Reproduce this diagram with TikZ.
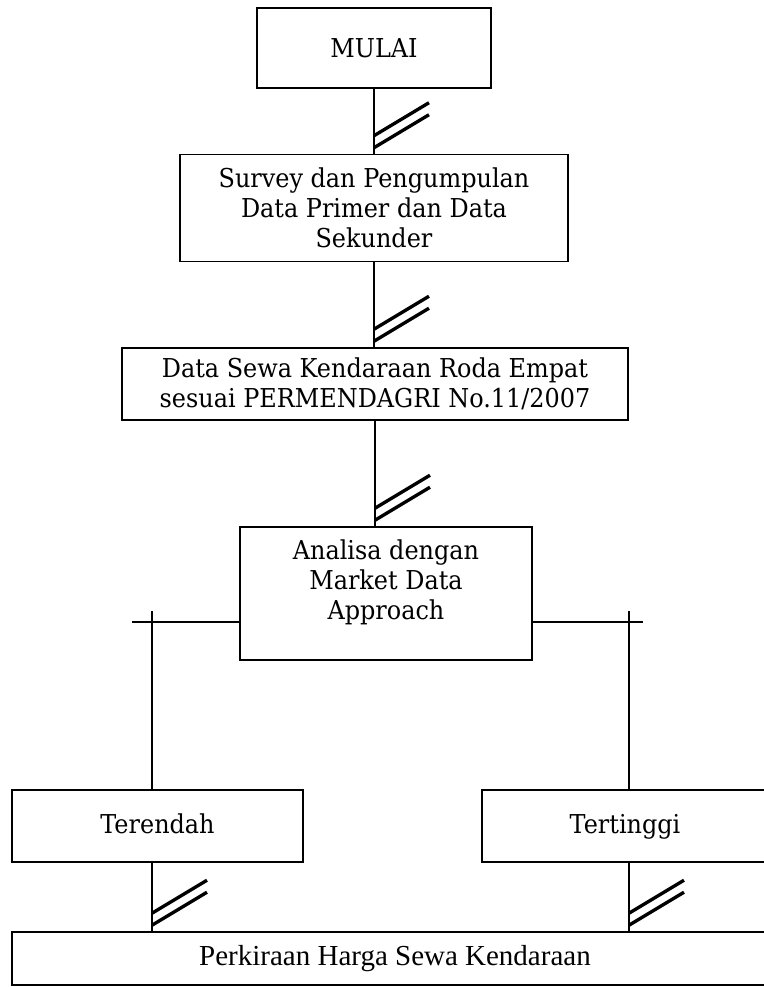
\documentclass[tikz,border=0pt]{standalone}
\usepackage{fontspec}
\setmainfont{DejaVu Serif}[FakeStretch=0.92]
\newfontfamily\hasilfont{Liberation Serif}

\tikzset{
  dslash/.pic={
    \draw[line width=1.9pt] (0,0) -- (1.1,0.66);
    \draw[line width=1.9pt] (0,0.24) -- (1.1,0.9);
  }
}

\begin{document}
\begin{tikzpicture}[every node/.style={font=\fontsize{14.8}{17}\selectfont},
  box/.style={shape=rectangle, draw, line width=0.9pt, align=center, inner sep=0pt}]
\useasboundingbox (0,0) rectangle (15.28,-19.74);
\node[box, minimum width=4.68cm, minimum height=1.6cm] (mulai) at (7.48,-0.96) {MULAI};
\node[box, minimum width=7.76cm, minimum height=2.14cm] (survey) at (7.48,-4.16) {Survey dan Pengumpulan\\Data Primer dan Data\\Sekunder};
\node[box, minimum width=10.12cm, minimum height=1.44cm] (datasewa) at (7.5,-7.68) {Data Sewa Kendaraan Roda Empat\\sesuai PERMENDAGRI No.11/2007};
\node[box, minimum width=5.84cm, minimum height=2.66cm, text depth=0.55cm] (analisa) at (7.72,-11.87) {Analisa dengan\\Market Data\\Approach};
\node[box, minimum width=5.82cm, minimum height=1.44cm, text depth=0.1cm] (terendah) at (3.15,-16.52) {Terendah};
\node[box, minimum width=5.72cm, minimum height=1.44cm, text depth=0.1cm] (tertinggi) at (12.5,-16.52) {Tertinggi};
\node[box, minimum width=15.32cm, minimum height=1.06cm, font=\hasilfont\fontsize{16.5}{19}\selectfont] (hasil) at (7.9,-19.17) {Perkiraan Harga Sewa Kendaraan};

% cabang kiri dan kanan
\coordinate (kiri) at (2.64,-12.44);
\coordinate (kiritiang) at (3.04,-12.22);
\coordinate (kanan) at (12.86,-12.44);
\coordinate (kanantiang) at (12.58,-12.22);

\path[line width=0.9pt]
(mulai) edge (survey)
(survey.south) edge (survey.south |- datasewa.north)
(datasewa.south) edge (datasewa.south |- analisa.north)
(analisa.west |- kiri) edge (kiri)
(kiritiang) edge (kiritiang |- terendah.north)
(analisa.east |- kanan) edge (kanan)
(kanantiang) edge (kanantiang |- tertinggi.north)
(terendah.south -| kiritiang) edge (kiritiang |- hasil.north)
(tertinggi.south -| kanantiang) edge (kanantiang |- hasil.north);

\pic at ([yshift=0.12cm]mulai.south |- survey.north) {dslash};
\pic at ([yshift=0.12cm]survey.south |- datasewa.north) {dslash};
\pic at ([yshift=0.12cm]datasewa.south |- analisa.north) {dslash};
\pic at ([yshift=0.12cm]kiritiang |- hasil.north) {dslash};
\pic at ([yshift=0.12cm]kanantiang |- hasil.north) {dslash};
\end{tikzpicture}
\end{document}
